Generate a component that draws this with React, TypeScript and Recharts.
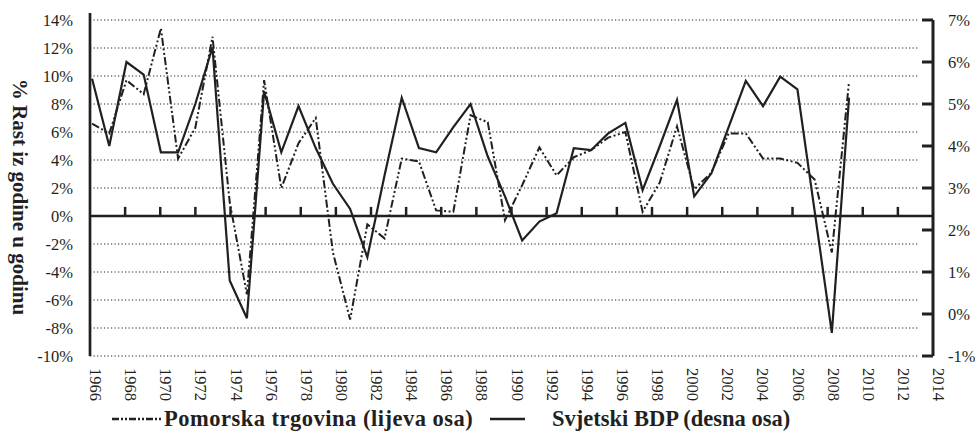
import React from 'react';
import { ComposedChart, Line, XAxis, YAxis, ReferenceLine, Legend } from 'recharts';

const years = [
  1966, 1967, 1968, 1969, 1970, 1971, 1972, 1973, 1974, 1975,
  1976, 1977, 1978, 1979, 1980, 1981, 1982, 1983, 1984, 1985,
  1986, 1987, 1988, 1989, 1990, 1991, 1992, 1993, 1994, 1995,
  1996, 1997, 1998, 1999, 2000, 2001, 2002, 2003, 2004, 2005,
  2006, 2007, 2008, 2009, 2010,
];

// Pomorska trgovina (lijeva osa), %
const tradeGrowth = [
  6.6, 5.9, 9.7, 8.7, 13.4, 4.1, 6.3, 12.8, 1.0, -5.6,
  9.7, 2.0, 5.2, 7.0, -2.6, -7.4, -0.6, -1.6, 4.1, 3.9,
  0.4, 0.3, 7.2, 6.7, -0.3, 2.2, 4.9, 2.9, 4.2, 4.7,
  5.6, 6.0, 0.3, 2.4, 6.4, 1.9, 3.1, 5.9, 5.9, 4.1,
  4.1, 3.8, 2.6, -2.6, 9.6,
];

// Svjetski BDP (desna osa), %
const gdpGrowth = [
  5.6, 4.0, 6.0, 5.7, 3.85, 3.85, 5.0, 6.35, 0.8, -0.1,
  5.3, 3.85, 4.95, 3.95, 3.1, 2.5, 1.35, 3.3, 5.15, 3.95,
  3.85, 4.45, 5.0, 3.75, 2.8, 1.75, 2.2, 2.4, 3.95, 3.9,
  4.3, 4.55, 2.95, 4.0, 5.1, 2.8, 3.35, 4.45, 5.55, 4.95,
  5.65, 5.35, 2.45, -0.45, 5.15,
];

const yearTicks = [
  1966, 1968, 1970, 1972, 1974, 1976, 1978, 1980, 1982, 1984, 1986, 1988, 1990,
  1992, 1994, 1996, 1998, 2000, 2002, 2004, 2006, 2008, 2010, 2012, 2014,
];
const leftTicks = [-10, -8, -6, -4, -2, 0, 2, 4, 6, 8, 10, 12, 14];
const rightTicks = [-1, 0, 1, 2, 3, 4, 5, 6, 7];

const TRADE_NAME = 'Pomorska trgovina (lijeva osa)';
const GDP_NAME = 'Svjetski BDP (desna osa)';
const AXIS_TITLE = '% Rast iz godine u godinu';

const data = years.map((year, i) => ({ year, trade: tradeGrowth[i], gdp: gdpGrowth[i] }));

const FONT = '"Liberation Serif", "DejaVu Serif", "Noto Serif", Tinos, "Times New Roman", Times, serif';
const INK = '#231f20';
const TRADE_DASH = '8 2.5 2 2.5 2 2.5';
const DATA_X_DOMAIN: [number, number] = [1965.88, 2014.88];
const GRID_END_YEAR = 2014;

const makeYearLabel = (year: number) => (props: any) => {
  const { viewBox } = props;
  if (!viewBox) return null;
  const x = viewBox.x;
  const y = Math.max(viewBox.y, viewBox.y + viewBox.height) + 12;
  return (
    <text
      x={x}
      y={y}
      transform={`rotate(90 ${x} ${y})`}
      fontFamily={FONT}
      fontSize={16.5}
      fill={INK}
      textAnchor="start"
    >
      {year}
    </text>
  );
};

const RightTick = (props: any) => {
  const { x, y, payload } = props;
  const axisX = x - 15;
  return (
    <g>
      <line x1={axisX - 11} y1={y} x2={axisX} y2={y} stroke={INK} strokeWidth={3} />
      <text x={x} y={y} dy="0.35em" fontFamily={FONT} fontSize={16.5} fill={INK} textAnchor="start">
        {`${payload.value}%`}
      </text>
    </g>
  );
};

const TitleLabel = (props: any) => {
  const { viewBox } = props;
  const cx = viewBox.x + 13;
  const cy = viewBox.y + viewBox.height / 2 + 9;
  return (
    <text
      x={cx}
      y={cy}
      transform={`rotate(90 ${cx} ${cy})`}
      textAnchor="middle"
      fontFamily={FONT}
      fontWeight="bold"
      fontSize={21}
      fill={INK}
    >
      {AXIS_TITLE}
    </text>
  );
};

const renderLegend = (props: any) => {
  const payload = props.payload || [];
  return (
    <div
      style={{
        position: 'relative',
        height: 38,
        fontFamily: FONT,
        fontWeight: 'bold',
        fontSize: 22.5,
        color: INK,
        whiteSpace: 'nowrap',
      }}
    >
      {payload.map((entry: any, i: number) => {
        const isTrade = entry.dataKey === 'trade';
        const w = isTrade ? 50 : 35;
        return (
          <div
            key={i}
            style={{
              position: 'absolute',
              top: 1,
              left: isTrade ? 112 : 490,
              display: 'flex',
              alignItems: 'center',
              lineHeight: '25px',
            }}
          >
            <svg width={w} height={10} style={{ display: 'block' }}>
              <line
                x1={0}
                y1={5}
                x2={w}
                y2={5}
                stroke={INK}
                strokeWidth={2.5}
                strokeDasharray={isTrade ? '7 2 2 2 2 2' : undefined}
              />
            </svg>
            <span style={{ marginLeft: isTrade ? 2 : 27, letterSpacing: isTrade ? 0.5 : 0 }}>{entry.value}</span>
          </div>
        );
      })}
    </div>
  );
};

export default function App() {
  return (
    <div>
      <style>{'body{margin:0;overflow:hidden;}'}</style>
      <ComposedChart width={975} height={443} data={data} margin={{ top: 20, right: 2, bottom: 49, left: 0 }}>
        <XAxis
          xAxisId="ticks"
          dataKey="year"
          type="number"
          domain={[1966, 2014]}
          ticks={yearTicks}
          allowDataOverflow
          hide
        />
        <XAxis
          xAxisId="data"
          dataKey="year"
          type="number"
          domain={DATA_X_DOMAIN}
          allowDataOverflow
          hide
        />
        <YAxis
          yAxisId="left"
          domain={[-10, 14]}
          ticks={leftTicks}
          interval={0}
          allowDataOverflow
          width={90}
          axisLine={{ stroke: INK, strokeWidth: 2.7 }}
          tickLine={false}
          tickSize={0}
          tickMargin={17}
          tickFormatter={(v: number) => `${v}%`}
          tick={{ fontFamily: FONT, fontSize: 16.5, fill: INK }}
          label={<TitleLabel />}
        />
        <YAxis
          yAxisId="right"
          orientation="right"
          domain={[-1, 7]}
          ticks={rightTicks}
          interval={0}
          allowDataOverflow
          width={40}
          axisLine={{ stroke: INK, strokeWidth: 3 }}
          tickLine={false}
          tickSize={0}
          tickMargin={15}
          tick={<RightTick />}
        />
        {leftTicks
          .filter((t) => t !== 0)
          .map((t) => (
            <ReferenceLine
              key={`g${t}`}
              xAxisId="data"
              yAxisId="left"
              segment={[
                { x: DATA_X_DOMAIN[0], y: t },
                { x: GRID_END_YEAR, y: t },
              ]}
              stroke={INK}
              strokeWidth={1.2}
              strokeDasharray="1.2 2.3"
            />
          ))}
        <ReferenceLine
          xAxisId="data"
          yAxisId="left"
          segment={[
            { x: DATA_X_DOMAIN[0], y: 14 },
            { x: DATA_X_DOMAIN[0], y: 14.5 },
          ]}
          ifOverflow="visible"
          stroke={INK}
          strokeWidth={2.7}
        />
        {yearTicks.map((t) => (
          <ReferenceLine
            key={`l${t}`}
            xAxisId="ticks"
            yAxisId="left"
            x={t}
            stroke="none"
            label={makeYearLabel(t)}
          />
        ))}
        <ReferenceLine xAxisId="ticks" yAxisId="left" y={0} stroke={INK} strokeWidth={2.7} />
        {yearTicks
          .filter((t) => t !== 1966 && t !== 2014)
          .map((t) => (
            <ReferenceLine
              key={`t${t}`}
              xAxisId="ticks"
              yAxisId="left"
              segment={[
                { x: t, y: 0 },
                { x: t, y: 0.65 },
              ]}
              stroke={INK}
              strokeWidth={2.5}
            />
          ))}
        <Line
          xAxisId="data"
          yAxisId="left"
          type="linear"
          dataKey="trade"
          name={TRADE_NAME}
          stroke={INK}
          strokeWidth={2}
          strokeDasharray={TRADE_DASH}
          dot={false}
          activeDot={false}
          isAnimationActive={false}
        />
        <Line
          xAxisId="data"
          yAxisId="right"
          type="linear"
          dataKey="gdp"
          name={GDP_NAME}
          stroke={INK}
          strokeWidth={2.2}
          dot={false}
          activeDot={false}
          isAnimationActive={false}
        />
        <Legend
          verticalAlign="bottom"
          content={renderLegend}
          wrapperStyle={{ left: 0, bottom: 0, width: 975, height: 38 }}
        />
      </ComposedChart>
    </div>
  );
}
